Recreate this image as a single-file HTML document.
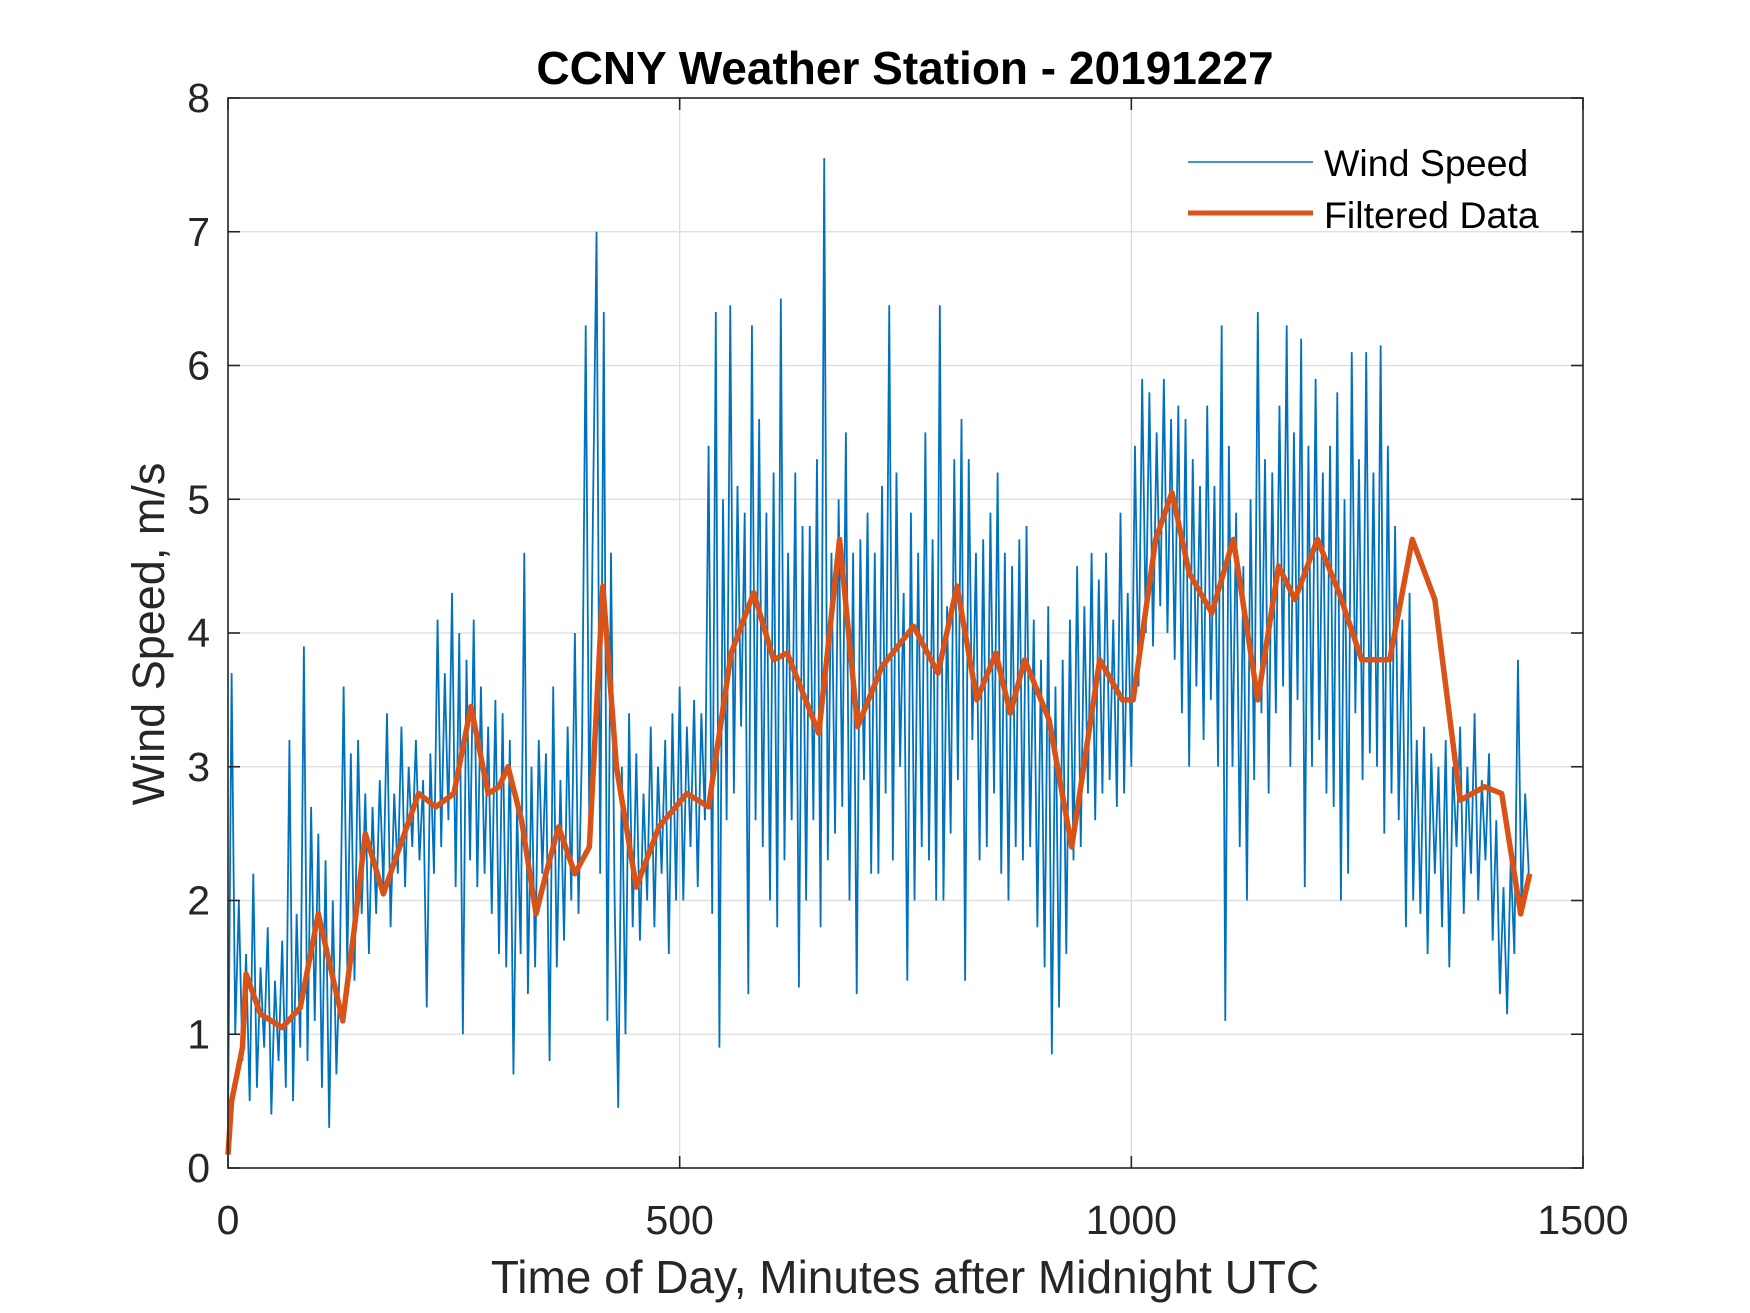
<!DOCTYPE html>
<html><head><meta charset="utf-8"><style>
html,body{margin:0;padding:0;background:#fff;}
svg{display:block;font-family:"Liberation Sans",Arial,sans-serif;}
</style></head><body>
<svg id="chart" width="1750" height="1313" viewBox="0 0 1750 1313" xmlns="http://www.w3.org/2000/svg">
<rect width="1750" height="1313" fill="#fff"/>
<g id="grid"></g>
<g id="series"></g>
<rect x="228" y="98" width="1355" height="1070" fill="none" stroke="#262626" stroke-width="1.6"/>
<g id="ticks"></g>
<text x="905" y="84" text-anchor="middle" font-size="46" font-weight="bold" fill="#000">CCNY Weather Station - 20191227</text>
<text x="905" y="1293" text-anchor="middle" font-size="46" fill="#262626">Time of Day, Minutes after Midnight UTC</text>
<text transform="translate(164,634) rotate(-90)" text-anchor="middle" font-size="45" fill="#262626">Wind Speed, m/s</text>
<g>
<line x1="1188" y1="162" x2="1313" y2="162" stroke="#0072BD" stroke-width="1.6"/>
<text x="1324" y="176" font-size="37.5" fill="#000">Wind Speed</text>
<line x1="1188" y1="213" x2="1313" y2="213" stroke="#D95319" stroke-width="5"/>
<text x="1324" y="228" font-size="37.5" fill="#000">Filtered Data</text>
</g>
</svg>
<script>
const xTicks = [0, 500, 1000, 1500];
const yTicks = [0, 1, 2, 3, 4, 5, 6, 7, 8];
const rawStep = 4;
const rawValues = [
0.3,3.7,1.0,2.0,0.8,1.6,0.5,2.2,0.6,1.5,
0.9,1.8,0.4,1.4,0.8,1.7,0.6,3.2,0.5,1.9,
0.9,3.9,0.8,2.7,1.1,2.5,0.6,2.3,0.3,2.0,
0.7,1.6,3.6,1.5,3.1,1.4,3.2,1.9,2.8,1.6,
2.7,1.9,2.9,2.1,3.4,1.8,2.8,2.2,3.3,2.1,
3.0,2.4,3.2,2.3,2.9,1.2,3.1,2.2,4.1,2.4,
3.7,2.6,4.3,2.1,4.0,1.0,3.8,2.3,4.1,2.1,
3.6,2.2,3.3,1.9,3.5,1.6,3.4,1.5,3.2,0.7,
2.7,1.6,4.6,1.3,3.0,1.5,3.2,2.2,3.1,0.8,
3.6,1.5,2.9,1.7,3.3,2.0,4.0,1.9,3.2,6.3,
2.5,4.9,7.0,2.2,6.4,1.1,4.6,2.0,0.45,3.0,
1.0,3.4,1.8,3.1,1.7,2.8,2.0,3.3,1.8,3.0,
2.2,3.2,1.6,3.4,2.0,3.6,2.0,3.3,2.4,3.5,
2.1,3.4,2.6,5.4,1.9,6.4,0.9,5.0,2.6,6.45,
2.8,5.1,3.3,4.9,1.3,6.3,2.6,5.6,2.4,4.9,
2.0,5.2,1.8,6.5,2.3,4.6,2.6,5.2,1.35,4.8,
2.0,4.8,2.6,5.3,1.8,7.55,2.3,4.6,2.5,5.0,
2.7,5.5,2.0,4.6,1.3,4.7,2.9,4.9,2.2,4.6,
2.2,5.1,2.8,6.45,2.3,5.2,3.0,4.3,1.4,4.9,
2.0,4.6,2.4,5.5,2.3,4.7,2.0,6.45,2.0,4.2,
2.5,5.3,2.9,5.6,1.4,5.3,3.2,4.6,2.3,4.7,
2.4,4.9,2.8,5.2,2.2,4.6,2.0,4.5,2.4,4.7,
2.3,4.8,2.4,4.1,1.8,3.8,1.5,4.2,0.85,3.6,
1.2,3.8,1.6,4.1,2.3,4.5,2.4,4.2,2.8,4.6,
2.6,4.4,2.8,4.6,2.9,4.1,2.7,4.9,2.8,4.3,
3.0,5.4,3.6,5.9,4.0,5.8,3.9,5.5,4.2,5.9,
4.0,5.6,3.8,5.7,3.4,5.6,3.0,5.3,3.6,5.1,
3.2,5.7,3.5,5.1,3.0,6.3,1.1,5.4,3.0,4.9,
2.4,4.5,2.0,5.0,2.9,6.4,3.4,5.3,2.8,5.2,
3.4,5.7,3.6,6.3,3.0,5.5,3.5,6.2,2.1,5.4,
3.0,5.9,3.2,5.2,2.8,5.4,2.7,5.8,2.0,5.0,
2.2,6.1,3.4,5.3,2.9,6.1,3.1,5.2,3.0,6.15,
2.5,5.4,2.8,4.8,2.6,4.1,1.8,4.3,2.0,3.2,
1.9,3.3,1.6,3.1,2.2,3.0,1.8,3.2,1.5,3.0,
2.4,3.3,1.9,3.0,2.2,3.4,2.0,2.9,2.3,3.1,
1.7,2.6,1.3,2.1,1.15,2.3,1.6,3.8,1.9,2.8,
2.2];
const filteredTimes = [0,4,16,20,36,60,80,100,110,127,140,152,172,190,211,230,250,269,288,300,310,325,341,352,366,384,400,415,430,452,477,508,532,557,582,604,619,654,677,697,724,759,786,807,829,850,866,882,909,934,965,990,1002,1027,1045,1064,1089,1113,1140,1163,1181,1206,1230,1255,1286,1311,1336,1364,1391,1410,1431,1441];
const filteredValues = [0.1,0.5,0.9,1.45,1.15,1.05,1.2,1.9,1.6,1.1,1.8,2.5,2.05,2.4,2.8,2.7,2.8,3.45,2.8,2.85,3.0,2.6,1.9,2.2,2.55,2.2,2.4,4.35,3.0,2.1,2.55,2.8,2.7,3.85,4.3,3.8,3.85,3.25,4.7,3.3,3.75,4.05,3.7,4.35,3.5,3.85,3.4,3.8,3.35,2.4,3.8,3.5,3.5,4.7,5.05,4.45,4.15,4.7,3.5,4.5,4.25,4.7,4.3,3.8,3.8,4.7,4.25,2.75,2.85,2.8,1.9,2.2];

const NS = 'http://www.w3.org/2000/svg';
const L = 228, R = 1583, T = 98, B = 1168;
function xs(v){ return L + v / 1500 * (R - L); }
function ys(v){ return B - v / 8 * (B - T); }

const grid = document.getElementById('grid');
const ticks = document.getElementById('ticks');
xTicks.forEach(v => {
  const x = xs(v);
  const g = document.createElementNS(NS, 'line');
  
  
  g.setAttribute('x1', x); g.setAttribute('x2', x); g.setAttribute('y1', T); g.setAttribute('y2', B);
  g.setAttribute('stroke', '#dcdcdc'); g.setAttribute('stroke-width', '1.3');
  grid.appendChild(g);
  [[B, B - 12], [T, T + 12]].forEach(p => {
    const t = document.createElementNS(NS, 'line');
    
    
    t.setAttribute('x1', x); t.setAttribute('x2', x); t.setAttribute('y1', p[0]); t.setAttribute('y2', p[1]);
    t.setAttribute('stroke', '#262626'); t.setAttribute('stroke-width', '1.6');
    ticks.appendChild(t);
  });
  const lab = document.createElementNS(NS, 'text');
  
  
  lab.setAttribute('x', x); lab.setAttribute('y', 1234);
  lab.setAttribute('text-anchor', 'middle'); lab.setAttribute('font-size', '41'); lab.setAttribute('fill', '#262626');
  lab.textContent = v;
  ticks.appendChild(lab);
});
yTicks.forEach(v => {
  const y = ys(v);
  const g = document.createElementNS(NS, 'line');
  
  
  g.setAttribute('x1', L); g.setAttribute('x2', R); g.setAttribute('y1', y); g.setAttribute('y2', y);
  g.setAttribute('stroke', '#dcdcdc'); g.setAttribute('stroke-width', '1.3');
  grid.appendChild(g);
  [[L, L + 12], [R, R - 12]].forEach(p => {
    const t = document.createElementNS(NS, 'line');
    
    
    t.setAttribute('x1', p[0]); t.setAttribute('x2', p[1]); t.setAttribute('y1', y); t.setAttribute('y2', y);
    t.setAttribute('stroke', '#262626'); t.setAttribute('stroke-width', '1.6');
    ticks.appendChild(t);
  });
  const lab = document.createElementNS(NS, 'text');
  
  
  lab.setAttribute('x', 210); lab.setAttribute('y', y + 14);
  lab.setAttribute('text-anchor', 'end'); lab.setAttribute('font-size', '41'); lab.setAttribute('fill', '#262626');
  lab.textContent = v;
  ticks.appendChild(lab);
});

const series = document.getElementById('series');
const rawPts = rawValues.map((v, i) => xs(i * rawStep).toFixed(2) + ',' + ys(v).toFixed(2)).join(' ');
const raw = document.createElementNS(NS, 'polyline');


raw.setAttribute('points', rawPts);
raw.setAttribute('fill', 'none'); raw.setAttribute('stroke', '#0072BD'); raw.setAttribute('stroke-width', '1.8');
raw.setAttribute('stroke-linejoin', 'miter');
series.appendChild(raw);

const fPts = filteredValues.map((v, i) => xs(filteredTimes[i]).toFixed(2) + ',' + ys(v).toFixed(2)).join(' ');
const filt = document.createElementNS(NS, 'polyline');


filt.setAttribute('points', fPts);
filt.setAttribute('fill', 'none'); filt.setAttribute('stroke', '#D95319'); filt.setAttribute('stroke-width', '5.5');
filt.setAttribute('stroke-linejoin', 'round');
series.appendChild(filt);
</script>
</body></html>
